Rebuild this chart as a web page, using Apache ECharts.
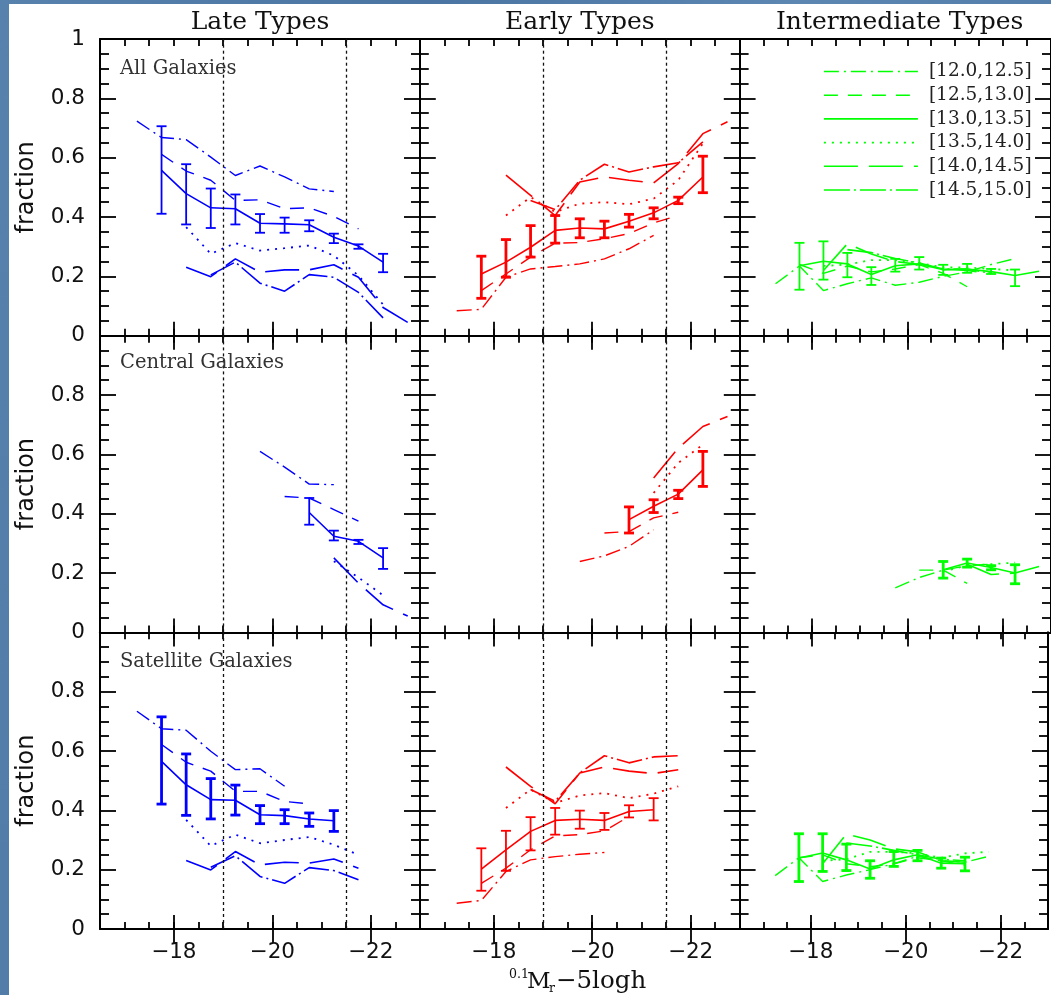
<!DOCTYPE html>
<html><head><meta charset="utf-8">
<script src="https://cdn.jsdelivr.net/npm/echarts@6/dist/echarts.min.js"></script>
<style>
html,body{margin:0;padding:0;width:1051px;height:995px;overflow:hidden;
background:linear-gradient(100deg,#5882ae 0%,#4a74a1 35%,#5d87b3 65%,#4d77a4 100%);}
#paper{position:absolute;left:9px;top:4px;width:1042px;height:991px;background:#fff;}
#chart{position:absolute;left:0;top:0;width:1051px;height:995px;}
</style></head><body><div id="paper"></div><div id="chart"></div>
<script>
const n = null;
// magnitude bins (0.1Mr - 5logh)
const MAG = [-17.25,-17.75,-18.25,-18.75,-19.25,-19.75,-20.25,-20.75,-21.25,-21.75,-22.25,-22.75];
const RANGES = ['[12.0,12.5]','[12.5,13.0]','[13.0,13.5]','[13.5,14.0]','[14.0,14.5]','[14.5,15.0]'];
const COL_TITLES = ['Late Types','Early Types','Intermediate Types'];
const ROW_TITLES = ['All Galaxies','Central Galaxies','Satellite Galaxies'];
const X_LABELS = [-18,-20,-22];
const DIVIDERS = [-19,-21.5];

// Late types, all
const LA0 = [0.723,0.668,0.661,0.602,0.540,0.572,0.535,0.495,0.486,n,n,n];
const LA1 = [n,0.611,0.555,0.524,0.456,0.458,0.428,0.431,0.402,0.360,n,n];
const LA2 = [n,0.557,0.479,0.431,0.428,0.379,0.377,0.374,0.332,0.302,0.248,n];
const LA_LO = [n,0.411,0.375,0.363,0.375,0.347,0.347,0.352,0.312,0.293,0.214,n];
const LA_HI = [n,0.706,0.578,0.496,0.476,0.410,0.398,0.389,0.344,0.308,0.276,n];
const LA3 = [n,n,0.366,0.276,0.312,0.287,0.295,0.304,0.270,0.203,0.105,n];
const LA4 = [n,n,0.231,0.199,0.259,0.214,0.222,0.222,0.239,0.197,0.095,0.045];
const LA5 = [n,n,n,0.205,0.248,0.177,0.150,0.206,0.197,0.146,0.060,n];
// Late types, central
const LC0 = [n,n,n,n,n,0.610,0.557,0.500,0.498,n,n,n];
const LC1 = [n,n,n,n,n,n,0.458,0.453,0.414,0.375,n,n];
const LC2 = [n,n,n,n,n,n,n,0.404,0.324,0.307,0.251,n];
const LC_LO = [n,n,n,n,n,n,n,0.363,0.310,0.298,0.214,n];
const LC_HI = [n,n,n,n,n,n,n,0.453,0.343,0.312,0.284,n];
const LC3 = [n,n,n,n,n,n,n,n,0.240,0.185,0.125,n];
const LC4 = [n,n,n,n,n,n,n,n,0.251,0.166,0.093,0.055];
const LC5 = [n,n,n,n,n,n,n,n,n,n,n,n];
// Late types, satellite
const LS0 = [0.734,0.675,0.670,0.599,0.537,0.540,0.481,n,n,n,n,n];
const LS1 = [n,0.622,0.562,0.532,0.464,0.464,0.430,0.422,n,n,n,n];
const LS2 = [n,0.565,0.486,0.436,0.434,0.385,0.382,0.371,0.365,n,n,n];
const LS_LO = [n,0.421,0.383,0.371,0.384,0.355,0.355,0.346,0.329,n,n,n];
const LS_HI = [n,0.715,0.590,0.507,0.485,0.416,0.402,0.391,0.399,n,n,n];
const LS3 = [n,n,0.368,0.280,0.318,0.289,0.300,0.310,0.284,0.250,n,n];
const LS4 = [n,n,0.231,0.199,0.261,0.216,0.225,0.222,0.236,0.205,n,n];
const LS5 = [n,n,n,0.208,0.247,0.177,0.154,0.207,0.197,0.166,n,n];
// Early types, all
const EA0 = [0.084,0.089,0.197,0.225,0.233,0.242,0.259,0.293,0.338,n,n,n];
const EA1 = [n,0.152,0.208,0.265,0.312,0.314,0.327,0.344,0.380,0.405,n,n];
const EA2 = [n,0.208,0.248,0.298,0.355,0.363,0.360,0.386,0.414,0.456,0.535,n];
const EA_LO = [n,0.126,0.197,0.265,0.312,0.330,0.330,0.366,0.394,0.445,0.482,n];
const EA_HI = [n,0.268,0.324,0.371,0.405,0.394,0.386,0.409,0.431,0.467,0.605,n];
const EA3 = [n,n,0.405,0.467,0.417,0.445,0.450,0.443,0.462,0.524,0.648,n];
const EA4 = [n,n,0.541,0.473,0.405,0.518,0.535,0.524,0.515,0.580,0.681,0.721];
const EA5 = [n,n,n,0.456,0.425,0.524,0.578,0.552,0.569,0.583,0.653,n];
// Early types, central
const EC0 = [n,n,n,n,n,0.239,0.258,0.290,0.346,n,n,n];
const EC1 = [n,n,n,n,n,n,0.335,0.340,0.386,0.405,n,n];
const EC2 = [n,n,n,n,n,n,n,0.380,0.425,0.466,0.548,n];
const EC_LO = [n,n,n,n,n,n,n,0.335,0.404,0.451,0.492,n];
const EC_HI = [n,n,n,n,n,n,n,0.423,0.447,0.479,0.610,n];
const EC3 = [n,n,n,n,n,n,n,n,0.470,0.571,0.633,n];
const EC4 = [n,n,n,n,n,n,n,n,0.520,0.621,0.694,0.728];
const EC5 = [n,n,n,n,n,n,n,n,n,n,n,n];
// Early types, satellite
const ES0 = [0.087,0.096,0.194,0.233,0.244,0.252,0.258,n,n,n,n,n];
const ES1 = [n,0.154,0.205,0.267,0.314,0.318,0.331,0.379,n,n,n,n];
const ES2 = [n,0.202,0.267,0.329,0.366,0.370,0.366,0.396,0.402,n,n,n];
const ES_LO = [n,0.129,0.196,0.265,0.318,0.338,0.334,0.376,0.366,n,n,n];
const ES_HI = [n,0.272,0.331,0.377,0.408,0.399,0.391,0.417,0.441,n,n,n];
const ES3 = [n,n,0.408,0.470,0.425,0.450,0.458,0.441,0.456,0.481,n,n];
const ES4 = [n,n,0.546,0.481,0.422,0.526,0.546,0.532,0.524,0.537,n,n];
const ES5 = [n,n,n,0.470,0.430,0.526,0.584,0.560,0.580,0.584,n,n];
// Intermediate types, all
const IA0 = [0.175,0.235,0.152,0.175,0.195,0.170,0.180,0.200,0.215,0.240,0.260,n];
const IA1 = [n,0.240,0.210,0.235,0.215,0.225,0.240,0.210,0.165,n,n,n];
const IA2 = [n,0.236,0.251,0.242,0.206,0.236,0.242,0.222,0.225,0.216,0.203,0.217];
const IA_LO = [n,0.155,0.189,0.197,0.171,0.216,0.223,0.205,0.212,0.208,0.167,n];
const IA_HI = [n,0.313,0.318,0.279,0.231,0.259,0.265,0.239,0.242,0.225,0.223,n];
const IA3 = [n,n,0.235,0.240,0.255,0.255,0.245,0.230,0.230,0.225,0.220,n];
const IA4 = [n,n,0.220,0.310,0.275,0.250,0.240,0.225,0.220,0.210,n,n];
const IA5 = [n,n,n,0.290,0.280,0.260,0.245,0.225,0.225,0.210,n,n];
// Intermediate types, central
const IC0 = [n,n,n,n,n,0.150,0.185,0.210,0.225,0.230,n,n];
const IC1 = [n,n,n,n,n,n,0.210,0.210,0.165,n,n,n];
const IC2 = [n,n,n,n,n,n,n,0.211,0.234,0.219,0.200,0.222];
const IC_LO = [n,n,n,n,n,n,n,0.183,0.220,0.211,0.164,n];
const IC_HI = [n,n,n,n,n,n,n,0.239,0.247,0.225,0.228,n];
const IC3 = [n,n,n,n,n,n,n,0.205,0.225,0.230,0.235,n];
const IC4 = [n,n,n,n,n,n,n,n,0.230,0.195,0.200,n];
const IC5 = [n,n,n,n,n,n,n,n,n,n,n,n];
// Intermediate types, satellite
const IS0 = [0.180,0.240,0.160,0.182,0.200,0.220,0.245,0.230,0.225,0.245,n,n];
const IS1 = [n,0.240,0.250,0.220,0.210,0.220,0.240,0.230,0.215,n,n,n];
const IS2 = [n,0.239,0.256,0.233,0.202,0.233,0.250,0.222,0.220,n,n,n];
const IS_LO = [n,0.160,0.194,0.197,0.171,0.211,0.230,0.205,0.196,n,n,n];
const IS_HI = [n,0.321,0.321,0.286,0.230,0.261,0.265,0.239,0.242,n,n,n];
const IS3 = [n,n,0.230,0.235,0.260,0.260,0.255,0.240,0.255,0.260,n,n];
const IS4 = [n,n,0.220,0.320,0.300,0.270,0.260,0.230,0.225,n,n,n];
const IS5 = [n,n,n,0.290,0.280,0.265,0.250,0.235,0.230,n,n,n];

// ---- styles ----
const BLUE = '#0000ff', RED = '#ff0000', GREEN = '#00ff00';
const DASH = [[15,5,2,5],[14,10],'solid',[2,6],[34,11],[26,4,2,4]];
const LW = [1.4,1.4,1.6,1.8,1.6,1.6];
const LEFTS = [100, 419.8, 739.6];
const TOPS = [39, 335.7, 632.3];
const GW = 320, GH = 296.7;

// panel g = row*3 + col; intermediate column listed first so the legend picks green
const PANELS = [
  {r:0,c:2,lines:[IA0,IA1,IA2,IA3,IA4,IA5],lo:IA_LO,hi:IA_HI,color:GREEN,ew:1.8},
  {r:1,c:2,lines:[IC0,IC1,IC2,IC3,IC4,IC5],lo:IC_LO,hi:IC_HI,color:GREEN,ew:2.8},
  {r:2,c:2,lines:[IS0,IS1,IS2,IS3,IS4,IS5],lo:IS_LO,hi:IS_HI,color:GREEN,ew:2.8},
  {r:0,c:0,lines:[LA0,LA1,LA2,LA3,LA4,LA5],lo:LA_LO,hi:LA_HI,color:BLUE,ew:1.8},
  {r:1,c:0,lines:[LC0,LC1,LC2,LC3,LC4,LC5],lo:LC_LO,hi:LC_HI,color:BLUE,ew:1.8},
  {r:2,c:0,lines:[LS0,LS1,LS2,LS3,LS4,LS5],lo:LS_LO,hi:LS_HI,color:BLUE,ew:2.8},
  {r:0,c:1,lines:[EA0,EA1,EA2,EA3,EA4,EA5],lo:EA_LO,hi:EA_HI,color:RED,ew:2.8},
  {r:1,c:1,lines:[EC0,EC1,EC2,EC3,EC4,EC5],lo:EC_LO,hi:EC_HI,color:RED,ew:2.8},
  {r:2,c:1,lines:[ES0,ES1,ES2,ES3,ES4,ES5],lo:ES_LO,hi:ES_HI,color:RED,ew:1.8}
];

function pts(arr){ const o=[]; arr.forEach((v,i)=>{ if(v!==null) o.push([MAG[i],v]); }); return o; }
function errPts(lo,hi){ const o=[]; lo.forEach((v,i)=>{ if(v!==null && hi[i]!==null) o.push([MAG[i],v,hi[i]]); }); return o; }
function errRender(color,w){
  return function(params, api){
    const x=api.value(0), a=api.coord([x,api.value(1)]), b=api.coord([x,api.value(2)]);
    const cw=5, st={stroke:color,lineWidth:w};
    return {type:'group',children:[
      {type:'line',shape:{x1:a[0],y1:a[1],x2:b[0],y2:b[1]},style:st},
      {type:'line',shape:{x1:a[0]-cw,y1:a[1],x2:a[0]+cw,y2:a[1]},style:st},
      {type:'line',shape:{x1:b[0]-cw,y1:b[1],x2:b[0]+cw,y2:b[1]},style:st}
    ]};
  };
}

const option = {animation:false, backgroundColor:'transparent', grid:[], xAxis:[], yAxis:[], series:[], graphic:[]};
const AX = {color:'#000', width:2};
const TK = {color:'#000', width:1.8};

for (let r=0;r<3;r++) for (let c=0;c<3;c++){
  const g=r*3+c;
  option.grid.push({left:LEFTS[c], top:TOPS[r], width:GW, height:GH, show:false});
  ['bottom','top'].forEach(pos=>{
    const lab = (pos==='bottom' && r===2);
    option.xAxis.push({gridIndex:g, type:'value', position:pos, min:-23, max:-16.5, inverse:true, interval:0.5,
      axisLine:{show:true, onZero:false, lineStyle:AX},
      axisTick:{show:true, inside:true, length:7, lineStyle:TK},
      splitLine:{show:false},
      axisLabel:{show:lab, margin:12, fontFamily:'DejaVu Sans', fontSize:21.5, color:'#111',
        formatter:v=>X_LABELS.some(t=>Math.abs(t-v)<1e-6)?'\u2212'+Math.round(-v):''}});
    option.xAxis.push({gridIndex:g, type:'value', position:pos, min:-23, max:-16.5, inverse:true, interval:0.5,
      axisLine:{show:false},
      axisTick:{show:true, inside:true, length:14, lineStyle:TK, customValues:X_LABELS},
      splitLine:{show:false}, axisLabel:{show:false}});
  });
  ['left','right'].forEach(pos=>{
    const lab = (pos==='left' && c===0);
    option.yAxis.push({gridIndex:g, type:'value', position:pos, min:0, max:1, interval:0.2,
      axisLine:{show:true, onZero:false, lineStyle:AX},
      axisTick:{show:true, inside:true, length:16, lineStyle:TK},
      minorTick:{show:true, splitNumber:4, length:9, lineStyle:TK},
      splitLine:{show:false}, minorSplitLine:{show:false},
      axisLabel:{show:lab, margin:15, fontFamily:'DejaVu Sans', fontSize:21.5, color:'#111', showMaxLabel:(r===0)}});
  });
}

PANELS.forEach(p=>{
  const g=p.r*3+p.c;
  p.lines.forEach((arr,k)=>{
    const s = {type:'line', name:RANGES[k], xAxisIndex:4*g, yAxisIndex:2*g, data:pts(arr),
      symbol:'none', silent:true, z:2,
      lineStyle:{color:p.color, width:LW[k], type:DASH[k], cap:'butt'}, itemStyle:{color:p.color}};
    if (k===2 && p.c<2){
      s.markLine = {silent:true, symbol:['none','none'], label:{show:false}, animation:false,
        lineStyle:{color:'#111', type:[3,3], width:1.3}, emphasis:{disabled:true},
        data:DIVIDERS.map(d=>({xAxis:d}))};
    }
    option.series.push(s);
  });
  option.series.push({type:'custom', xAxisIndex:4*g, yAxisIndex:2*g, silent:true, z:3,
    renderItem:errRender(p.color,p.ew), encode:{x:0,y:[1,2]}, data:errPts(p.lo,p.hi)});
});

option.legend = {show:true, orient:'vertical', left:823, top:60.5, padding:0, itemWidth:94, itemHeight:14, itemGap:1.7,
  selectedMode:false, itemStyle:{color:'rgba(0,0,0,0)', borderWidth:0},
  textStyle:{fontFamily:'DejaVu Serif', fontSize:18.5, color:'#222', lineHeight:22, padding:[0,0,0,6]},
  data:RANGES.map((nm,k)=>({name:nm, lineStyle:{color:GREEN, width:LW[k], type:DASH[k]}, itemStyle:{color:'rgba(0,0,0,0)', borderWidth:0}}))};

// texts
const CX = LEFTS.map(l=>l+GW/2);
COL_TITLES.forEach((t,c)=>option.graphic.push({type:'text', x:CX[c], y:22, z:10,
  style:{text:t, fontFamily:'DejaVu Serif', fontSize:25, fill:'#111', textAlign:'center', textVerticalAlign:'middle'}}));
const ROWY = [69, 363, 662];
ROW_TITLES.forEach((t,r)=>option.graphic.push({type:'text', x:120, y:ROWY[r], z:10,
  style:{text:t, fontFamily:'DejaVu Serif', fontSize:19.5, fill:'#333', textAlign:'left', textVerticalAlign:'middle'}}));
TOPS.forEach(t=>option.graphic.push({type:'text', x:27, y:t+GH/2, rotation:Math.PI/2, z:10,
  style:{text:'fraction', fontFamily:'DejaVu Sans', fontSize:24, fill:'#111', textAlign:'center', textVerticalAlign:'middle'}}));
// x-axis title  0.1 M_r − 5logh
option.graphic.push({type:'text', x:509, y:975, z:10, style:{text:'0.1', fontFamily:'DejaVu Serif', fontSize:12.5, fill:'#111', textAlign:'left', textVerticalAlign:'middle'}});
option.graphic.push({type:'text', x:527, y:982, z:10, style:{text:'M', fontFamily:'DejaVu Serif', fontSize:23, fill:'#111', textAlign:'left', textVerticalAlign:'middle'}});
option.graphic.push({type:'text', x:549, y:989, z:10, style:{text:'r', fontFamily:'DejaVu Serif', fontSize:12.5, fill:'#111', textAlign:'left', textVerticalAlign:'middle'}});
option.graphic.push({type:'text', x:556, y:982, z:10, style:{text:'\u22125logh', fontFamily:'DejaVu Serif', fontSize:24.5, fill:'#111', textAlign:'left', textVerticalAlign:'middle'}});

const chart = echarts.init(document.getElementById('chart'), null, {renderer:'canvas'});
chart.setOption(option);
</script></body></html>
